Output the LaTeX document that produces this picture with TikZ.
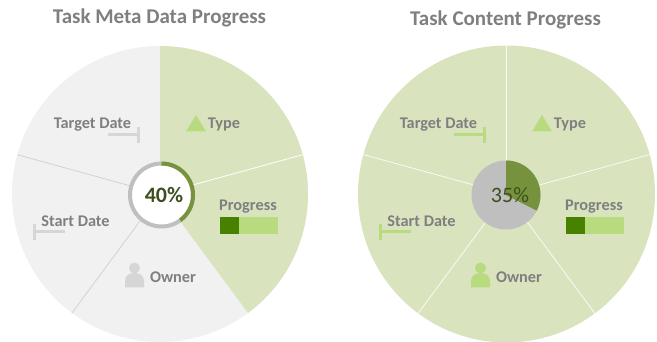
\documentclass[tikz,border=0pt]{standalone}
\usepackage{fontspec}
\setmainfont{Carlito}
\definecolor{paleg}{HTML}{D9E4BF}
\definecolor{paleq}{HTML}{F1F1F1}
\definecolor{midg}{HTML}{B7DB7E}
\definecolor{darkg}{HTML}{488000}
\definecolor{ringg}{HTML}{76923C}
\definecolor{ringq}{HTML}{BFBFBF}
\definecolor{iconq}{HTML}{D6D6D6}
\definecolor{txt}{HTML}{7F7F7F}
\definecolor{pct}{HTML}{3D4F1E}
\tikzset{
  x=1pt,y=-1pt,
  lab/.style={font=\bfseries\fontsize{16.3}{16.3}\selectfont,text=txt,inner sep=0pt},
  ttl/.style={font=\bfseries\fontsize{21}{21}\selectfont,text=txt,inner sep=0pt},
  pctlab/.style={font=\bfseries\fontsize{22}{22}\selectfont,text=pct,inner sep=0pt},
  tbar/.style={line width=3pt,line cap=butt},
}
\newcommand{\taskitems}[3]{% prefix, T-bar colour, owner colour
  \node[lab] (#1target) at (92.5,125) {Target Date};
  \node[lab] (#1type) at (224,124) {Type};
  \node[lab] (#1progress) at (248,207) {Progress};
  \node[lab] (#1owner) at (173,277) {Owner};
  \node[lab] (#1start) at (75.5,221) {Start Date};
  \fill[midg] (186,131.5) -- (206,131.5) -- (196,115) -- cycle;
  \draw[tbar,#2] (108,135) -- (138,135);
  \draw[tbar,#2] (138,127.5) -- (138,143.5);
  \draw[tbar,#2] (34.5,231.5) -- (65,231.5);
  \draw[tbar,#2] (34.5,224) -- (34.5,240);
  \fill[midg] (220,217) rectangle (277.5,234);
  \fill[darkg] (220,217) rectangle (239,234);
  \fill[#3] (134.5,268) circle[radius=5.5];
  \fill[#3] (125,287.5) -- (125,281) .. controls (125,276) and (129,273) .. (134.5,273)
     .. controls (140,273) and (144,276) .. (144,281) -- (144,287.5) -- cycle;
}
\begin{document}
\begin{tikzpicture}
\useasboundingbox (0,0) rectangle (657,342);
% titles
\node[ttl] (t1) at (159.5,18) {Task Meta Data Progress};
\node[ttl] (t2) at (505.5,20) {Task Content Progress};
% left pie
\fill[paleq] (160,194) circle[radius=148];
\fill[paleg] (160,194) -- (160,46) arc[start angle=-90,end angle=53.5,radius=148] -- cycle;
\draw[white,line width=.8pt] (160,194) -- ++(-15.4:148);
\draw[ringq!75,line width=.7pt] (160,194) -- ++(-164.6:148);
\draw[ringq!75,line width=.7pt] (160,194) -- ++(126.5:148);
\draw[ringq,line width=4pt,fill=white] (161.5,195) circle[radius=31.5];
\draw[ringg,line width=4pt] (161.5,163.5) arc[start angle=-90,end angle=53.5,radius=31.5];
\node[pctlab] (p1) at (164,195) {40\%};
\taskitems{a}{iconq}{iconq}
% right pie
\fill[paleg] (506.5,194) circle[radius=148.5];
\foreach \a in {-90,-15.4,53.5,126.5,195.4}
  \draw[white!85!paleg,line width=.8pt] (506.5,194) -- ++(\a:148.5);
\fill[ringq] (506,195) circle[radius=34.5];
\fill[ringg] (506,195) -- (506,160.5) arc[start angle=-90,end angle=27,radius=34.5] -- cycle;
\node[pctlab,font=\fontsize{22}{22}\selectfont] (p2) at (510,195) {35\%};
\begin{scope}[shift={(346,0)}]
\taskitems{b}{midg}{midg}
\end{scope}
\end{tikzpicture}
\end{document}
